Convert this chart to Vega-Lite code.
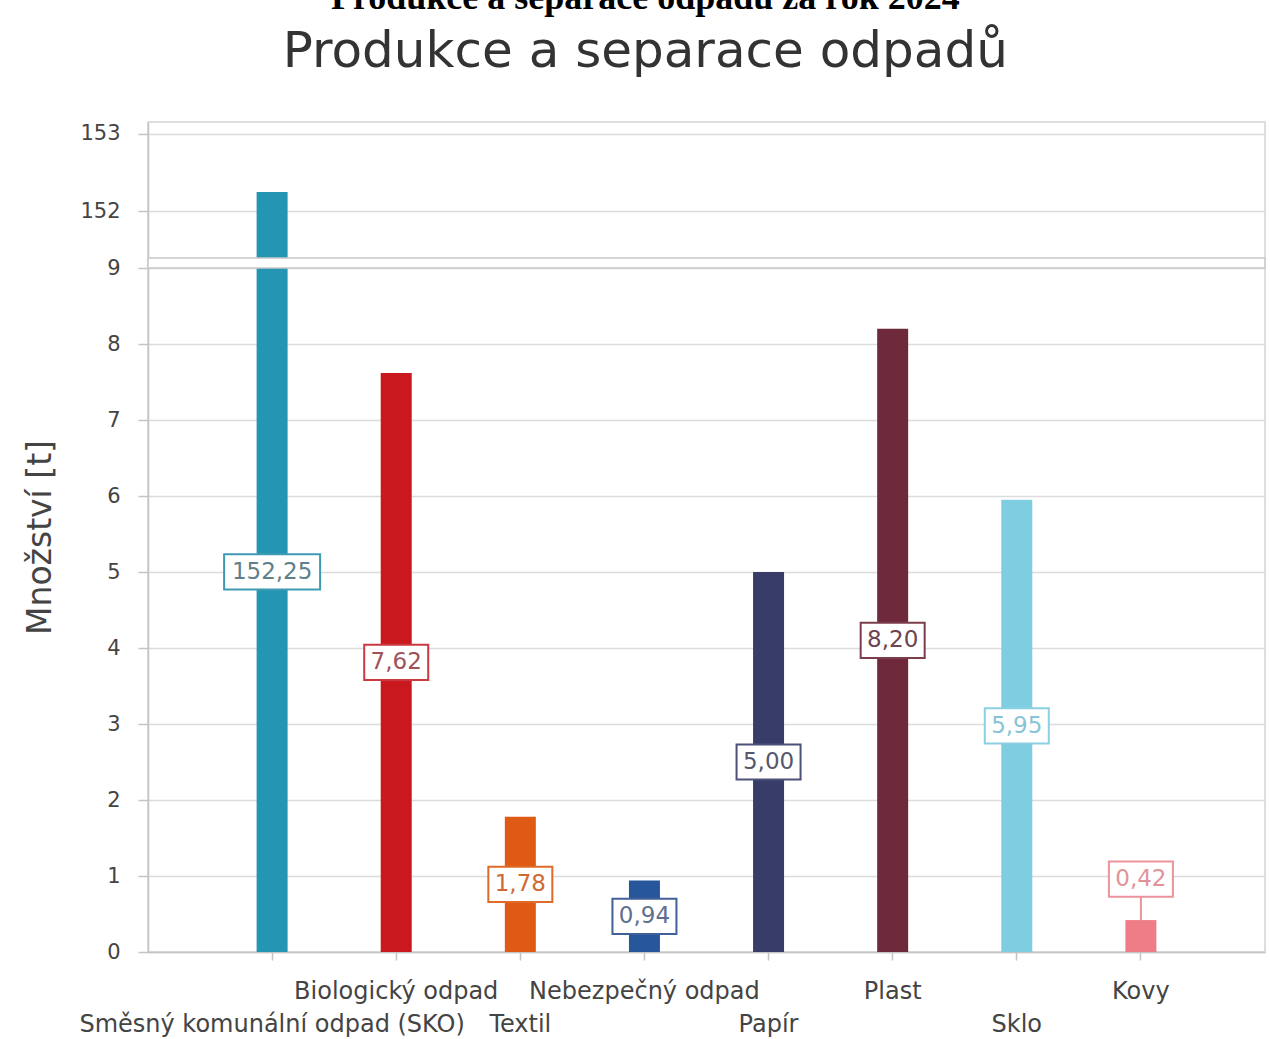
{
  "$schema": "https://vega.github.io/schema/vega-lite/v6.json",
  "width": 1117,
  "height": 830,
  "autosize": "none",
  "padding": {"left": 148, "top": 122, "right": 5, "bottom": 87},
  "background": "white",
  "config": {
    "locale": {"number": {"decimal": ",", "thousands": " ", "grouping": [3], "currency": ["", " Kč"]}},
    "view": {"stroke": "#d4d4d4", "strokeWidth": 1.5}
  },
  "title": {
    "text": "Produkce a separace odpadů za rok 2024",
    "subtitle": "Produkce a separace odpadů",
    "anchor": "middle",
    "frame": "bounds",
    "font": "Liberation Serif",
    "fontSize": 36,
    "fontWeight": "bold",
    "color": "#000000",
    "subtitleFont": "DejaVu Sans",
    "subtitleFontSize": 50,
    "subtitleColor": "#333333",
    "subtitlePadding": 10,
    "offset": 44
  },
  "data": {
    "values": [
      {"druh": "Směsný komunální odpad (SKO)", "mnozstvi": 152.25},
      {"druh": "Biologický odpad", "mnozstvi": 7.62},
      {"druh": "Textil", "mnozstvi": 1.78},
      {"druh": "Nebezpečný odpad", "mnozstvi": 0.94},
      {"druh": "Papír", "mnozstvi": 5.00},
      {"druh": "Plast", "mnozstvi": 8.20},
      {"druh": "Sklo", "mnozstvi": 5.95},
      {"druh": "Kovy", "mnozstvi": 0.42}
    ]
  },
  "layer": [
    {
      "mark": {"type": "bar", "width": 31},
      "encoding": {
        "x": {
          "field": "druh", "type": "nominal", "sort": null,
          "scale": {"paddingInner": 0, "paddingOuter": 0.5},
          "axis": {
            "title": null,
            "labelAngle": 0,
            "labelFont": "DejaVu Sans",
            "labelFontSize": 24,
            "labelColor": "#444444",
            "labelBaseline": "alphabetic",
            "labelPadding": 38,
            "labelLineHeight": 33,
            "labelLimit": 600,
            "labelOverlap": false,
            "labelExpr": "indexof(['Směsný komunální odpad (SKO)','Textil','Papír','Sklo'], datum.value) >= 0 ? ['', datum.label] : datum.label",
            "domainColor": "#c4c4c4",
            "domainWidth": 1.5,
            "tickColor": "#c4c4c4",
            "tickSize": 8,
            "tickWidth": 1.5
          }
        },
        "y": {
          "field": "mnozstvi", "type": "quantitative",
          "scale": {"domain": [0, 9, 151.4, 153.15], "range": [830, 146, 136, 0], "nice": false},
          "axis": {
            "title": "Množství [t]",
            "values": [0, 1, 2, 3, 4, 5, 6, 7, 8, 9, 152, 153],
            "format": "d",
            "grid": true,
            "gridColor": "#dcdcdc",
            "gridWidth": 1.5,
            "domainColor": "#c4c4c4",
            "domainWidth": 1.5,
            "tickColor": "#c4c4c4",
            "tickSize": 10,
            "tickWidth": 1.5,
            "labelFont": "DejaVu Sans",
            "labelFontSize": 21,
            "labelColor": "#444444",
            "labelPadding": 18,
            "titleFont": "DejaVu Sans",
            "titleFontSize": 33,
            "titleFontWeight": "normal",
            "titleColor": "#444444",
            "titlePadding": 22
          }
        },
        "color": {
          "field": "druh", "type": "nominal",
          "scale": {
            "domain": ["Směsný komunální odpad (SKO)", "Biologický odpad", "Textil", "Nebezpečný odpad", "Papír", "Plast", "Sklo", "Kovy"],
            "range": ["#2495b3", "#c9191f", "#df5a14", "#27579a", "#383c69", "#6e2a3b", "#7fcde1", "#ef7d87"]
          },
          "legend": null
        }
      }
    },
    {
      "data": {"values": [{"od": 9, "do": 151.4}]},
      "mark": {"type": "rect", "fill": "white", "stroke": "#c8c8c8", "strokeWidth": 1.5},
      "encoding": {
        "y": {"field": "od", "type": "quantitative"},
        "y2": {"field": "do"}
      }
    },
    {
      "transform": [{"filter": "datum.mnozstvi < 0.5"}],
      "mark": {"type": "rule", "strokeWidth": 2, "y2Offset": -24},
      "encoding": {
        "x": {"field": "druh", "type": "nominal", "sort": null},
        "y": {"field": "mnozstvi", "type": "quantitative"},
        "y2": {"field": "mnozstvi"},
        "stroke": {
          "field": "druh", "type": "nominal",
          "scale": {
            "domain": ["Směsný komunální odpad (SKO)", "Biologický odpad", "Textil", "Nebezpečný odpad", "Papír", "Plast", "Sklo", "Kovy"],
            "range": ["#3f9ab3", "#c93a40", "#e06a28", "#40609a", "#4d5078", "#7c3d4c", "#8ad0e2", "#ec939b"]
          },
          "legend": null
        }
      }
    },
    {
      "transform": [{"filter": "datum.mnozstvi >= 0.5"}],
      "mark": {"type": "point", "fill": "white", "fillOpacity": 1, "opacity": 1, "strokeWidth": 2, "size": 4096,
               "yOffset": {"expr": "(scale('y', 0) - scale('y', datum.mnozstvi)) / 2"}},
      "encoding": {
        "x": {"field": "druh", "type": "nominal", "sort": null},
        "y": {"field": "mnozstvi", "type": "quantitative"},
        "shape": {"condition": {"test": "datum.mnozstvi > 100", "value": "M-1.5,-0.55H1.5V0.55H-1.5Z"}, "value": "M-1,-0.55H1V0.55H-1Z"},
        "stroke": {"field": "druh", "type": "nominal", "legend": null}
      }
    },
    {
      "transform": [{"filter": "datum.mnozstvi < 0.5"}],
      "mark": {"type": "point", "fill": "white", "fillOpacity": 1, "opacity": 1, "strokeWidth": 2, "size": 4096, "yOffset": -41},
      "encoding": {
        "x": {"field": "druh", "type": "nominal", "sort": null},
        "y": {"field": "mnozstvi", "type": "quantitative"},
        "shape": {"value": "M-1,-0.55H1V0.55H-1Z"},
        "stroke": {"field": "druh", "type": "nominal", "legend": null}
      }
    },
    {
      "transform": [{"filter": "datum.mnozstvi >= 0.5"}],
      "mark": {"type": "text", "font": "DejaVu Sans", "fontSize": 23, "align": "center", "baseline": "middle",
               "yOffset": {"expr": "(scale('y', 0) - scale('y', datum.mnozstvi)) / 2"}},
      "encoding": {
        "x": {"field": "druh", "type": "nominal", "sort": null},
        "y": {"field": "mnozstvi", "type": "quantitative"},
        "text": {"field": "mnozstvi", "type": "quantitative", "format": ".2f"},
        "fill": {
          "field": "druh", "type": "nominal",
          "scale": {
            "domain": ["Směsný komunální odpad (SKO)", "Biologický odpad", "Textil", "Nebezpečný odpad", "Papír", "Plast", "Sklo", "Kovy"],
            "range": ["#5e7f8c", "#9e5258", "#cf6a35", "#5f6f8f", "#55576e", "#6d4450", "#88c4d6", "#e2939a"]
          },
          "legend": null
        }
      }
    },
    {
      "transform": [{"filter": "datum.mnozstvi < 0.5"}],
      "mark": {"type": "text", "font": "DejaVu Sans", "fontSize": 23, "align": "center", "baseline": "middle", "yOffset": -41},
      "encoding": {
        "x": {"field": "druh", "type": "nominal", "sort": null},
        "y": {"field": "mnozstvi", "type": "quantitative"},
        "text": {"field": "mnozstvi", "type": "quantitative", "format": ".2f"},
        "fill": {"field": "druh", "type": "nominal", "legend": null}
      }
    }
  ]
}
